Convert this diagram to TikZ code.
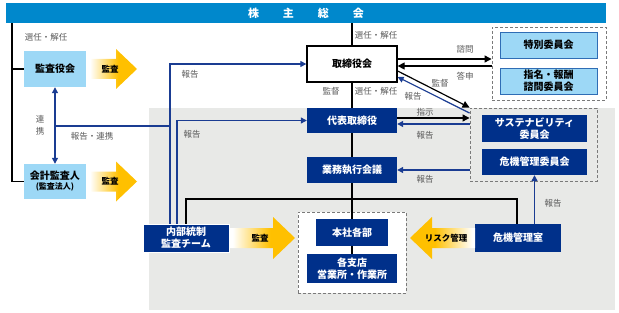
\documentclass[tikz,border=0pt]{standalone}
\usepackage{fontspec}
\setmainfont{Noto Sans CJK JP}
\usetikzlibrary{arrows.meta}
\definecolor{banner}{HTML}{0088CC}
\definecolor{lblue}{HTML}{9DD8F6}
\definecolor{navy}{HTML}{00308A}
\definecolor{lnblue}{HTML}{1A3C92}
\definecolor{bgray}{HTML}{E8E9E7}
\definecolor{dgray}{HTML}{7A7A7A}
\definecolor{lblgray}{HTML}{5A5A5A}
\definecolor{amber}{HTML}{FFC000}
\definecolor{lbborder}{HTML}{2F6DB5}
\pgfdeclarehorizontalshading{arrR}{100bp}{color(0bp)=(white); color(27bp)=(white); color(56bp)=(amber); color(100bp)=(amber)}
\pgfdeclarehorizontalshading{arrL}{100bp}{color(0bp)=(amber); color(44bp)=(amber); color(73bp)=(white); color(100bp)=(white)}
\begin{document}
\begin{tikzpicture}[x=1pt,y=-1pt,
  smalllbl/.style={text=lblgray, font=\fontsize{8.5}{9}\selectfont, inner sep=0pt},
  navybox/.style={fill=navy, text=white, font=\bfseries\fontsize{10}{12}\selectfont, align=center, inner sep=0pt},
  lbbox/.style={fill=lblue, text=black, font=\bfseries\fontsize{10}{12}\selectfont, align=center, inner sep=0pt},
  grp/.style={draw=dgray, line width=0.9pt, dash pattern=on 3pt off 2pt, inner sep=0pt},
  bl/.style={line width=1.2pt, black},
  blu/.style={line width=1.2pt, lnblue},
  harrow/.style={-{Triangle[length=7pt,width=7pt]}},
  harrowb/.style={-{Triangle[length=6pt,width=6pt]}},
  harrowbb/.style={{Triangle[length=6pt,width=6pt]}-{Triangle[length=6pt,width=6pt]}},
  arrlbl/.style={text=black, font=\bfseries\fontsize{8.5}{9}\selectfont, inner sep=0pt}
]
\useasboundingbox (0,0) rectangle (619,313);
\fill[bgray] (149,108) rectangle (615,310);

% groups
\node[grp, fill=white, minimum width=114pt, minimum height=73pt] (grpA) at (549,63.5) {};
\node[grp, minimum width=127pt, minimum height=73pt] (grpB) at (533.5,144.5) {};
\node[grp, fill=white, minimum width=108pt, minimum height=81pt] (grpC) at (352,252.5) {};

% banner
\node[fill=banner, minimum width=600pt, minimum height=20pt, inner sep=0pt, text=white,
  font=\bfseries\fontsize{11}{12}\selectfont] (kabu) at (306,13) {株\hspace{24pt}主\hspace{24pt}総\hspace{24pt}会};

% boxes
\node[draw=black, line width=1.3pt, fill=white, minimum width=90pt, minimum height=36pt,
  font=\bfseries\fontsize{10}{12}\selectfont, inner sep=0pt] (torishimari) at (352,64) {取締役会};
\node[navybox, minimum width=90pt, minimum height=25pt] (daihyo) at (352,120.5) {代表取締役};
\node[navybox, minimum width=90pt, minimum height=26pt] (gyomu) at (352,170) {業務執行会議};
\node[navybox, minimum width=72pt, minimum height=27pt] (honsha) at (352,232.5) {本社各部};
\node[navybox, minimum width=90pt, minimum height=29pt] (shiten) at (352,268.5) {各支店\\営業所・作業所};
\node[navybox, minimum width=86pt, minimum height=28pt] (kiki) at (518,238) {危機管理室};
\node[navybox, draw=white, line width=0.6pt, minimum width=86pt, minimum height=28pt] (naibu) at (186,238) {内部統制\\監査チーム};
\node[lbbox, minimum width=62pt, minimum height=36pt] (kansayaku) at (55,69) {監査役会};
\node[lbbox, minimum width=62pt, minimum height=35pt] (kaikei) at (55,181.5) {会計監査人\\[-2pt]{\fontsize{8}{10}\selectfont (監査法人)}};
\node[lbbox, draw=lbborder, line width=0.8pt, minimum width=97pt, minimum height=26pt] (tokubetsu) at (548.5,45) {特別委員会};
\node[lbbox, draw=lbborder, line width=0.8pt, minimum width=97pt, minimum height=26pt] (shimei) at (548.5,81) {指名・報酬\\諮問委員会};
\node[navybox, minimum width=105pt, minimum height=27pt] (sustain) at (534.5,128.5) {サステナビリティ\\委員会};
\node[navybox, minimum width=105pt, minimum height=26pt] (kikii) at (534.5,162) {危機管理委員会};

% gradient arrows
\shade[shading=arrR] (88,59) -- (116,59) -- (116,49) -- (137,69) -- (116,89) -- (116,79) -- (88,79) -- cycle;
\node[arrlbl] (ar1) at (110,69) {監査};
\shade[shading=arrR] (88,171.5) -- (116,171.5) -- (116,161.5) -- (137,181.5) -- (116,201.5) -- (116,191.5) -- (88,191.5) -- cycle;
\node[arrlbl] (ar2) at (110,181.5) {監査};
\shade[shading=arrR] (230,228) -- (273,228) -- (273,217) -- (295,238) -- (273,259) -- (273,248) -- (230,248) -- cycle;
\node[arrlbl] (ar3) at (260,238) {監査};
\shade[shading=arrL] (475,228) -- (432,228) -- (432,217) -- (410,238) -- (432,259) -- (432,248) -- (475,248) -- cycle;
\node[arrlbl] (ar4) at (446,238) {リスク管理};

% helper coordinates
\coordinate (xL) at (12,0);
\coordinate (x170) at (170,0);
\coordinate (x177) at (177,0);
\coordinate (x517) at (517,0);
\coordinate (y59) at (0,59);
\coordinate (y66) at (0,66);
\coordinate (y71) at (0,71);
\coordinate (y77) at (0,77);
\coordinate (y113) at (0,113);
\coordinate (y118) at (0,118);
\coordinate (y124) at (0,124);
\coordinate (y126) at (0,126);
\coordinate (y199) at (0,199);

% black lines
\draw[bl] (kabu.south -| xL) |- (kaikei.west);
\draw[bl] (kansayaku.west -| xL) -- (kansayaku.west);
\draw[bl] (kabu.south -| torishimari.north) -- (torishimari.north);
\draw[bl] (torishimari.south) -- (daihyo.north);
\draw[bl] (daihyo.south) -- (gyomu.north);
\draw[bl] (gyomu.south) -- (honsha.north);
\draw[bl] (honsha.south) -- (shiten.north);
\draw[bl, harrow] (torishimari.east |- y59) -- (grpA.west |- y59);
\draw[bl, harrow] (grpA.west |- y66) -- (torishimari.east |- y66);
\draw[bl, harrow] (torishimari.east |- y71) -- (grpB.north west);
\draw[bl, harrow] (daihyo.east |- y118) -- (grpB.west |- y118);
\draw[bl] (kiki.north -| x517) -- (x517 |- y199) -- (naibu.north |- y199) -- (naibu.north);

% blue lines
\draw[blu, harrowb] (grpB.west |- y113) -- (torishimari.east |- y77);
\draw[blu, harrowb] (grpB.west |- y124) -- (daihyo.east |- y124);
\draw[blu, harrowb] (grpB.west |- gyomu.east) -- (gyomu.east);
\draw[blu, harrowb] (kiki.north -| kikii.south) -- (kikii.south);
\draw[blu, harrowb] (naibu.north -| x170) |- (torishimari.west);
\draw[blu, harrowb] (naibu.north -| x177) |- (daihyo.west);
\draw[blu] (kansayaku.south |- y126) -- (x170 |- y126);
\draw[blu, harrowbb] (kansayaku.south) -- (kaikei.north);

% labels
\node[smalllbl] (l1) at (46,37) {選任・解任};
\node[smalllbl, align=center, font=\fontsize{8.5}{12}\selectfont] (l2) at (40,125) {連\\携};
\node[smalllbl] (l3) at (92,136) {報告・連携};
\node[smalllbl] (l4) at (190,74) {報告};
\node[smalllbl] (l5) at (192,134) {報告};
\node[smalllbl] (l6) at (376,35) {選任・解任};
\node[smalllbl] (l7) at (331,91) {監督};
\node[smalllbl] (l8) at (376,91) {選任・解任};
\node[smalllbl] (l9) at (465,49) {諮問};
\node[smalllbl] (l10) at (465,76) {答申};
\node[smalllbl] (l11) at (440,83) {監督};
\node[smalllbl] (l12) at (413,96) {報告};
\node[smalllbl] (l13) at (425,112) {指示};
\node[smalllbl] (l14) at (425,135) {報告};
\node[smalllbl] (l15) at (425,179) {報告};
\node[smalllbl] (l16) at (553,203) {報告};
\end{tikzpicture}
\end{document}
